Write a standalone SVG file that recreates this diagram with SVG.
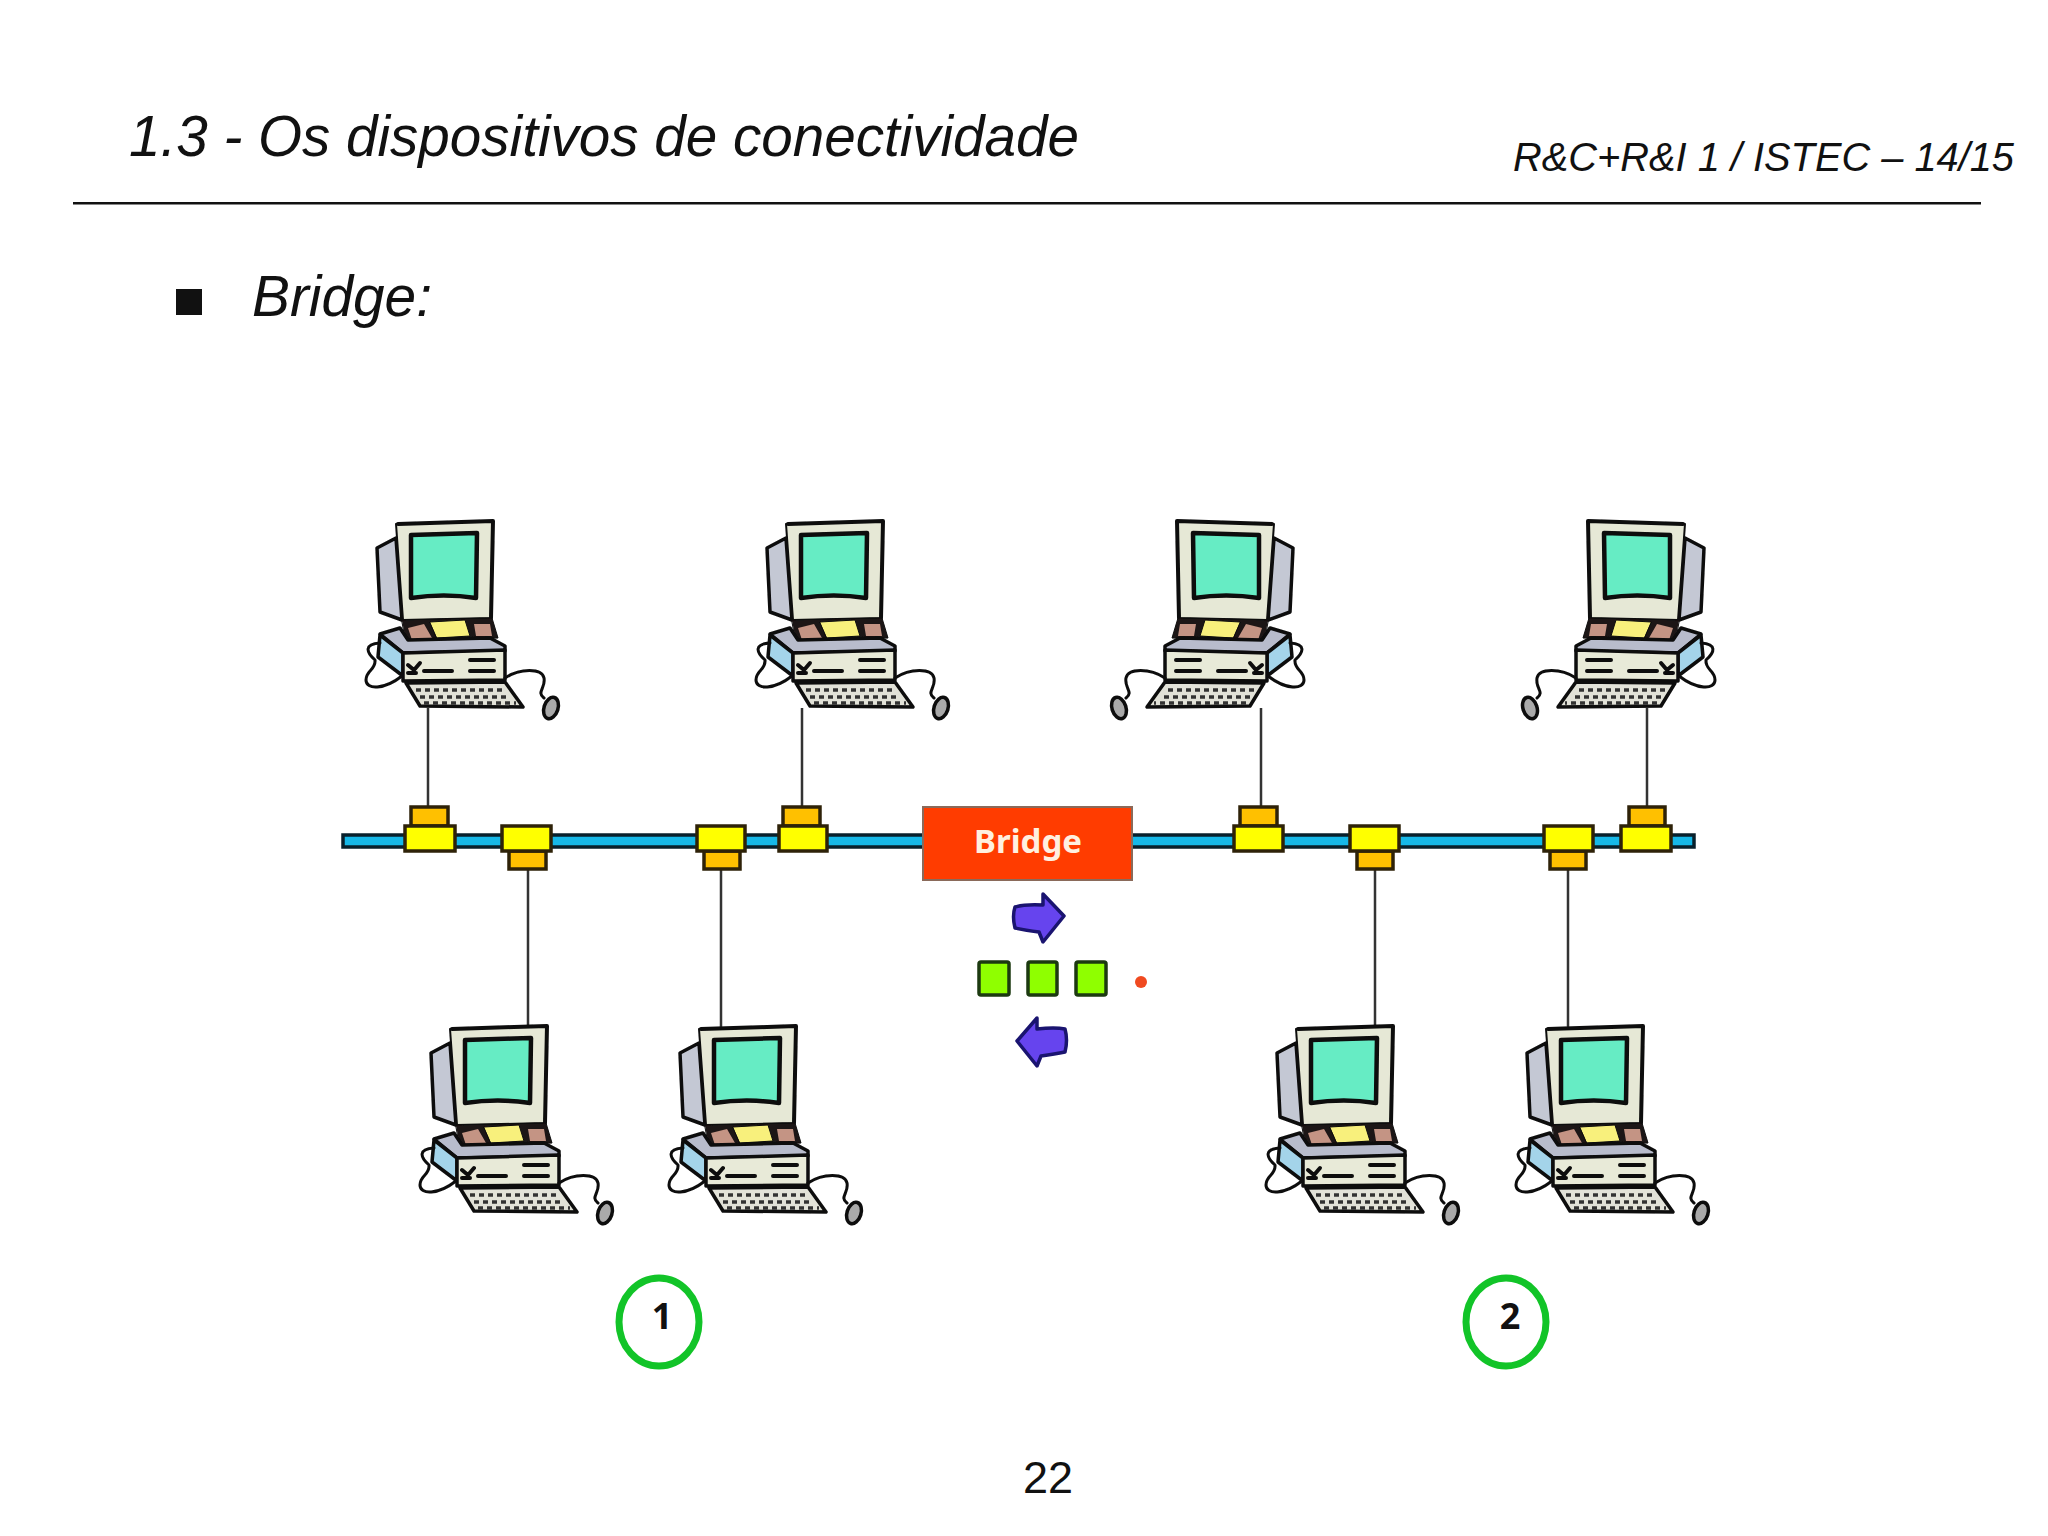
<svg xmlns="http://www.w3.org/2000/svg" width="2048" height="1536" viewBox="0 0 2048 1536">
<style>
.head{font-family:"Liberation Sans",Arial,sans-serif;font-style:italic;fill:#111}
.num{font-family:"Liberation Sans",Arial,sans-serif;fill:#111}
.k{stroke:#0c0c0c;stroke-linejoin:round;stroke-linecap:round}
.wire{stroke:#333;stroke-width:2.500;fill:none}
.tapY{fill:#ffff00;stroke:#2e2208;stroke-width:3.500}
.tapO{fill:#ffc000;stroke:#2e2208;stroke-width:3.500}
.sq{fill:#8fff00;stroke:#1c3a10;stroke-width:3.500}
.arrow{fill:#6644ee;stroke:#1a1470;stroke-width:3.500;stroke-linejoin:round}
.ring{fill:none;stroke:#12c428;stroke-width:7}
.lab{font-family:"Noto Sans",sans-serif;font-weight:bold}
</style>
<defs>
<filter id="soft" x="-5%" y="-5%" width="110%" height="110%"><feGaussianBlur stdDeviation="0.6"/></filter>
<g id="pc" filter="url(#soft)">
<path class="k" d="M56 38L37 48L40 112L62 120Z" fill="#c4c8d4" stroke-width="3.500"/>
<path class="k" d="M56 24L153 21L151 118L63 120Z" fill="#e6e8d6" stroke-width="2"/>
<path class="k" d="M58 24L153 21L151 118" fill="none" stroke-width="4"/>
<path class="k" d="M71 35L137 33L136 98Q104 93 71 98Z" fill="#66ecc4" stroke-width="4.500"/>
<path class="k" d="M62 120L152 118L158 138L66 142Z" fill="#1e1616" stroke-width="1"/>
<path d="M68 128L84 124L92 138L72 140ZM134 124L150 124L152 136L136 136Z" fill="#c49484"/>
<path class="k" d="M90 122L125 120L130 136L97 138Z" fill="#f8f07c" stroke-width="1"/>
<path class="k" d="M40 134L60 128L68 140L150 138L165 146L165 151L63 153Z" fill="#b8bccc" stroke-width="3.500"/>
<path class="k" d="M40 135L63 153L63 176L38 157Z" fill="#a4d4ea" stroke-width="3.500"/>
<path class="k" d="M63 153L165 150L165 180L63 181Z" fill="#e8ead8" stroke-width="3.500"/>
<path class="k" d="M84 171H112M130 171H154M130 160H154M68 165L74 170L80 163M68 173H76" fill="none" stroke-width="4"/>
<path class="k" d="M66 183L165 182L183 207L80 206Z" fill="#e2e2d8" stroke-width="3.500"/>
<path d="M76 190H164M80 197H170M84 203H176" stroke="#333" stroke-width="3.500" stroke-dasharray="5 4" fill="none"/>
<path class="k" d="M62 176C44 190 26 190 26 180C26 170 36 170 35 160C26 152 24 144 40 143M165 178C180 168 202 168 204 178C206 188 196 192 204 198" fill="none" stroke-width="3"/>
<ellipse class="k" cx="211" cy="208" rx="7" ry="11" transform="rotate(18 211 208)" fill="#aaaaaa" stroke-width="3.500"/>
</g>
</defs>

<g id="header">
<text class="head" x="129" y="156" font-size="56.600">1.3 - Os dispositivos de conectividade</text>
<text class="head" x="1513" y="171" font-size="39.800">R&amp;C+R&amp;I 1 / ISTEC – 14/15</text>
<rect x="73" y="202" width="1908" height="2.500" fill="#111"/>
</g>
<g id="bullet">
<rect x="176" y="289" width="26" height="26" fill="#111"/>
<text class="head" x="252" y="316" font-size="56.800">Bridge:</text>
</g>

<g id="connectors">
<rect x="343" y="835" width="1351" height="12" fill="#16b8e8" stroke="#08202c" stroke-width="3.500"/>
<path class="wire" d="M428 708V807M802 708V807M1261 708V807M1647 708V807M528 869V1030M721 869V1030M1375 869V1030M1568 869V1030"/>
</g>

<g id="tap-1"><rect class="tapO" x="411" y="807" width="37" height="19"/><rect class="tapY" x="405" y="826" width="50" height="25"/></g>
<g id="tap-2"><rect class="tapO" x="509" y="851" width="37" height="18"/><rect class="tapY" x="502" y="826" width="49" height="25"/></g>
<g id="tap-3"><rect class="tapO" x="704" y="851" width="36" height="18"/><rect class="tapY" x="697" y="826" width="48" height="25"/></g>
<g id="tap-4"><rect class="tapO" x="783" y="807" width="37" height="19"/><rect class="tapY" x="779" y="826" width="48" height="25"/></g>
<g id="tap-5"><rect class="tapO" x="1240" y="807" width="37" height="19"/><rect class="tapY" x="1234" y="826" width="49" height="25"/></g>
<g id="tap-6"><rect class="tapO" x="1357" y="851" width="36" height="18"/><rect class="tapY" x="1350" y="826" width="49" height="25"/></g>
<g id="tap-7"><rect class="tapO" x="1550" y="851" width="36" height="18"/><rect class="tapY" x="1544" y="826" width="49" height="25"/></g>
<g id="tap-8"><rect class="tapO" x="1629" y="807" width="36" height="19"/><rect class="tapY" x="1621" y="826" width="50" height="25"/></g>

<g id="pc-1"><use href="#pc" transform="translate(340 500)"/></g>
<g id="pc-2"><use href="#pc" transform="translate(730 500)"/></g>
<g id="pc-3"><use href="#pc" transform="translate(1330 500) scale(-1 1)"/></g>
<g id="pc-4"><use href="#pc" transform="translate(1741 500) scale(-1 1)"/></g>
<g id="pc-5"><use href="#pc" transform="translate(394 1005)"/></g>
<g id="pc-6"><use href="#pc" transform="translate(643 1005)"/></g>
<g id="pc-7"><use href="#pc" transform="translate(1240 1005)"/></g>
<g id="pc-8"><use href="#pc" transform="translate(1490 1005)"/></g>

<g id="bridge">
<rect x="923" y="807" width="209" height="73" fill="#ff3c00" stroke="#8a6a5a" stroke-width="2"/>
<text class="lab" x="1028" y="853" font-size="33" fill="#fff0e0" text-anchor="middle">Bridge</text>
</g>
<g id="arrow-right"><path class="arrow" d="M1015 907Q1025 904 1043 905L1043 894L1064 916L1043 942L1039 932Q1025 930 1015 928Q1012 916 1015 907Z"/></g>
<g id="arrow-left"><path class="arrow" d="M1065 1029Q1055 1027 1037 1029L1037 1018L1017 1041L1037 1066L1041 1056Q1055 1054 1065 1052Q1068 1040 1065 1029Z"/></g>
<g id="frames">
<rect class="sq" x="979" y="962" width="30" height="33" rx="2"/>
<rect class="sq" x="1028" y="962" width="29" height="33" rx="2"/>
<rect class="sq" x="1076" y="962" width="30" height="33" rx="2"/>
<circle cx="1141" cy="982" r="6" fill="#f04a20"/>
</g>
<g id="segment-1"><ellipse class="ring" cx="659" cy="1322" rx="40" ry="44"/><text class="lab" x="662" y="1329" font-size="36" fill="#111" text-anchor="middle">1</text></g>
<g id="segment-2"><ellipse class="ring" cx="1506" cy="1322" rx="40" ry="44"/><text class="lab" x="1510" y="1329" font-size="36" fill="#111" text-anchor="middle">2</text></g>
<text class="num" x="1048" y="1493" font-size="45" text-anchor="middle">22</text>
</svg>
